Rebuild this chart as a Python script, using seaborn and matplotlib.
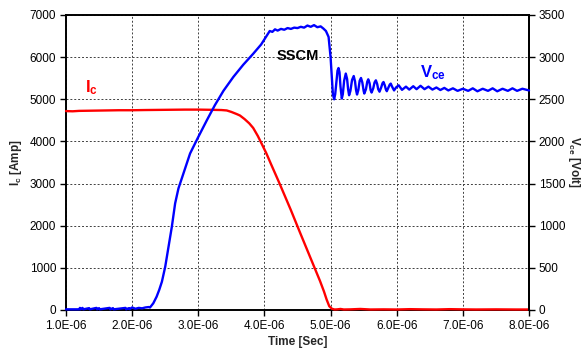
import matplotlib
matplotlib.use("Agg")
import matplotlib.pyplot as plt
import seaborn as sns
import numpy as np
import pandas as pd
from matplotlib.ticker import FuncFormatter, MultipleLocator

sns.set_theme(style="white")
plt.rcParams['font.family'] = ['Liberation Sans', 'DejaVu Sans']
plt.rcParams['mathtext.fontset'] = 'custom'
plt.rcParams['mathtext.rm'] = 'Liberation Sans'
plt.rcParams['mathtext.bf'] = 'Liberation Sans:bold'
plt.rcParams['mathtext.it'] = 'Liberation Sans:italic'

# ---- data (time in microseconds) ----
ic_time_us = [1.00, 1.10, 1.20, 1.40, 1.60, 1.80, 2.00, 2.20, 2.50, 2.80, 3.00, 3.20,
              3.35, 3.43, 3.50, 3.58, 3.63, 3.70, 3.77, 3.83, 3.90, 3.96, 4.03, 4.10,
              4.19, 4.24, 4.40, 4.54, 4.64, 4.74, 4.84, 4.90, 4.94, 4.98, 5.02, 5.06,
              5.10, 5.15, 5.20, 5.30, 5.45, 5.60, 5.80, 6.00, 6.20, 6.40, 6.60, 6.80,
              7.00, 7.20, 7.50, 7.80, 8.00]
ic_amp = [4720, 4715, 4725, 4730, 4735, 4740, 4740, 4745, 4750, 4755, 4755, 4750,
          4745, 4735, 4700, 4650, 4615, 4530, 4430, 4320, 4130, 3940, 3714, 3460,
          3140, 2960, 2370, 1830, 1450, 1070, 690, 440, 250, 90, 30, 12,
          15, 25, 12, 15, 25, 12, 15, 12, 20, 15, 12, 20,
          15, 12, 15, 12, 12]

vce_time_us = [1.00, 1.20, 1.21, 1.22, 1.25, 1.26, 1.35, 1.36, 1.46, 1.47, 1.50, 1.51,
               1.66, 1.67, 1.71, 1.72, 1.90, 1.91, 1.95, 1.96, 2.00, 2.05, 2.10, 2.15,
               2.20, 2.25, 2.27, 2.32, 2.37, 2.41, 2.45, 2.50, 2.55, 2.60, 2.65, 2.70,
               2.775, 2.876, 3.00, 3.13, 3.25, 3.38, 3.53, 3.68, 3.83, 3.95, 4.04,
               4.08, 4.12, 4.16, 4.20, 4.25, 4.30, 4.35, 4.40, 4.45, 4.50, 4.55, 4.60,
               4.65, 4.70, 4.75, 4.80, 4.85, 4.89, 4.93, 4.97, 5.00, 5.02, 5.035, 5.054,
               5.07, 5.09, 5.105, 5.12, 5.135, 5.15, 5.17, 5.185, 5.205, 5.23, 5.25, 5.265,
               5.28, 5.30, 5.325, 5.35, 5.37, 5.385, 5.40, 5.42, 5.44, 5.46, 5.48, 5.50,
               5.51, 5.535, 5.555, 5.57, 5.59, 5.605, 5.62, 5.645, 5.665, 5.685, 5.705, 5.72,
               5.74, 5.765, 5.785, 5.80, 5.82, 5.835, 5.85, 5.875, 5.895, 5.91, 5.93, 5.96,
               5.99, 6.03, 6.08, 6.14, 6.19, 6.25, 6.30, 6.36, 6.42,
               6.48, 6.54, 6.60, 6.66, 6.72, 6.78, 6.85, 6.92, 7.00, 7.08, 7.15, 7.22,
               7.30, 7.38, 7.45, 7.52, 7.60, 7.68, 7.75, 7.82, 7.90, 8.00]
vce_volt = [8, 8, 25, 8, 25, 8, 22, 8, 25, 8, 22, 8,
            25, 8, 22, 8, 25, 8, 22, 10, 30, 15, 25, 20,
            30, 35, 30, 80, 158, 240, 336, 513, 750, 987, 1265, 1442,
            1620, 1857, 2053, 2252, 2429, 2600, 2765, 2910, 3040, 3150, 3260,
            3310, 3300, 3330, 3315, 3335, 3325, 3345, 3335, 3350, 3345, 3360, 3350,
            3375, 3360, 3380, 3355, 3365, 3340, 3310, 3240, 3000, 2750, 2560, 2500,
            2560, 2720, 2840, 2871, 2820, 2650, 2509, 2560, 2720, 2805, 2740, 2620,
            2548, 2600, 2730, 2776, 2710, 2610, 2556, 2610, 2720, 2753, 2700, 2600,
            2568, 2620, 2710, 2737, 2690, 2610, 2580, 2630, 2700, 2725, 2680, 2620,
            2590, 2640, 2690, 2705, 2665, 2620, 2596, 2640, 2675, 2686, 2650, 2605,
            2640, 2666, 2612, 2650, 2615, 2655, 2620, 2660, 2620,
            2650, 2615, 2640, 2610, 2635, 2605, 2630, 2600, 2625, 2600, 2630, 2595,
            2625, 2600, 2630, 2595, 2625, 2600, 2630, 2600, 2625, 2605]

x_ticks_us = [1, 2, 3, 4, 5, 6, 7, 8]

ic_df = pd.DataFrame({"t": np.array(ic_time_us) * 1e-6, "ic": ic_amp})
vce_df = pd.DataFrame({"t": np.array(vce_time_us) * 1e-6, "vce": vce_volt})

fig = plt.figure(figsize=(5.82, 3.53), dpi=100)
ax = fig.add_axes([66/582, 1-310/353, (529-66)/582, (310-15)/353])
ax2 = ax.twinx()

sns.lineplot(data=ic_df, x="t", y="ic", ax=ax, color="#FF0000", linewidth=1.7,
             estimator=None, sort=False, zorder=3, clip_on=False)
sns.lineplot(data=vce_df, x="t", y="vce", ax=ax2, color="#0000FF", linewidth=1.7,
             estimator=None, sort=False, zorder=3, clip_on=False)

ax.set_xlim(1e-6, 8e-6)
ax.set_ylim(0, 7000)
ax2.set_ylim(0, 3500)
ax.set_xticks([v * 1e-6 for v in x_ticks_us])
ax.yaxis.set_major_locator(MultipleLocator(1000))
ax2.yaxis.set_major_locator(MultipleLocator(500))
ax.xaxis.set_major_formatter(FuncFormatter(lambda v, p: f"{v:.1E}"))

ax.grid(True, color="0.25", linestyle=(0, (2, 2)), linewidth=0.7)
ax2.grid(False)

for a in (ax, ax2):
    for s in a.spines.values():
        s.set_linewidth(1.4)
        s.set_color("black")
    a.tick_params(axis="both", which="major", direction="out", length=4, width=1,
                  color="black", labelsize=8.5, labelcolor="black", pad=3)
for side in ("left", "top", "bottom"):
    ax2.spines[side].set_visible(False)
ax.tick_params(left=True, bottom=True)
ax2.tick_params(right=True)

ax.set_xlabel("Time [Sec]", fontsize=8.5, fontweight="bold", labelpad=3)
ax.set_ylabel(r"$\mathbf{I_c}$ [Amp]", fontsize=8.5, fontweight="bold", labelpad=4)
ax2.set_ylabel(r"$\mathbf{V_{ce}}$ [Volt]", fontsize=8.5, fontweight="bold",
               rotation=270, labelpad=12)

ax.text(1.29e-6, 5170, r"$\mathbf{I_c}$", color="#FF0000", fontsize=12,
        va="baseline", ha="left")
ax.text(4.19e-6, 5942, "SSCM", color="black", fontsize=10.5, fontweight="bold",
        va="baseline", ha="left")
ax2.text(6.345e-6, 2757, r"$\mathbf{V_{ce}}$", color="#0000FF", fontsize=12,
         va="baseline", ha="left")

fig.savefig("out.png", dpi=100, facecolor="white")
